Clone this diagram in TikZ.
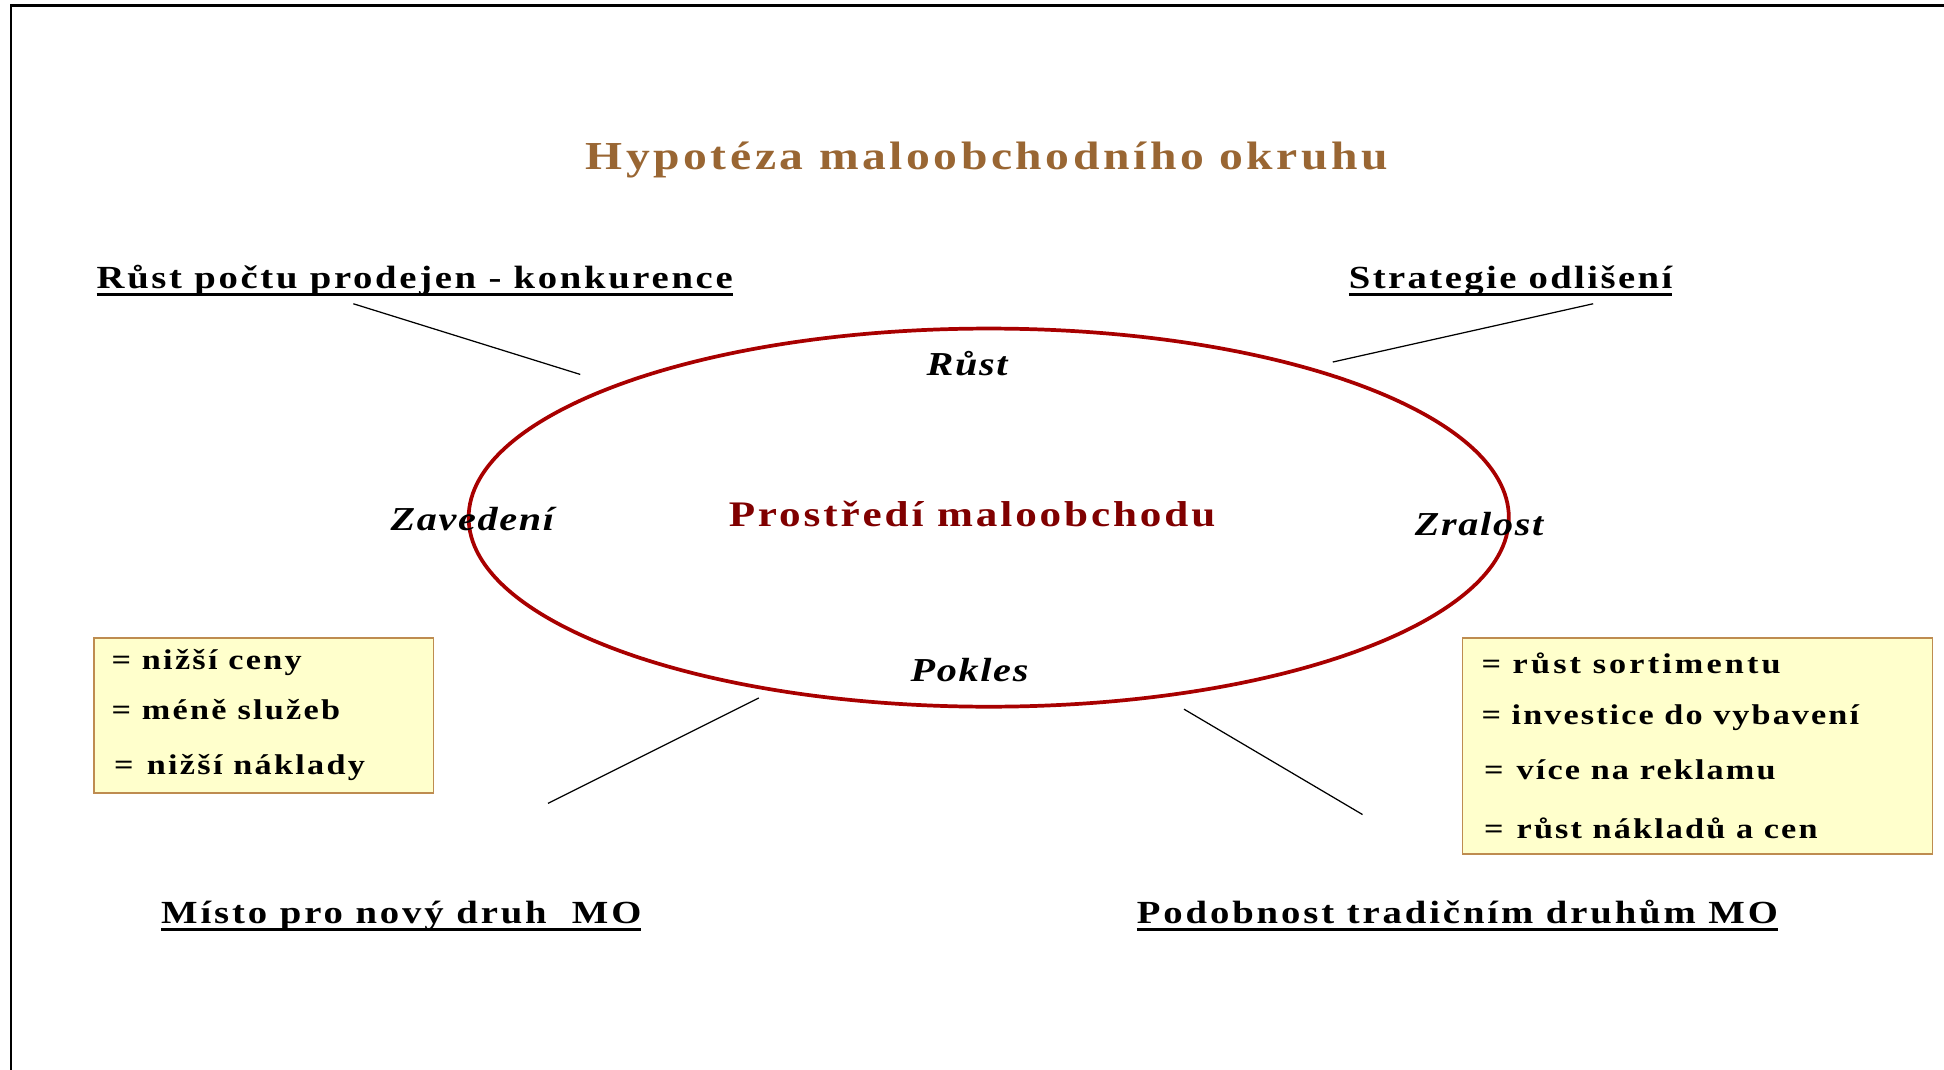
\documentclass[tikz,border=0pt]{standalone}
\usepackage{fontspec}
\setmainfont{Liberation Serif}
\definecolor{titlebrown}{RGB}{153,102,51}
\definecolor{ringred}{RGB}{168,0,0}
\definecolor{envred}{RGB}{128,0,0}
\definecolor{boxfill}{RGB}{255,255,204}
\definecolor{boxedge}{RGB}{190,140,80}
\begin{document}
\begin{tikzpicture}[x=0.5pt,y=-0.5pt,
  txt/.style={inner sep=0pt, outer sep=0pt, anchor=base west},
  titletxt/.style={inner sep=0pt, anchor=base, text=titlebrown,
    font=\fontsize{16}{18}\selectfont\bfseries\addfontfeature{FakeStretch=1.2,LetterSpace=9}},
  headtxt/.style={txt, font=\fontsize{13}{15}\selectfont\bfseries\addfontfeature{FakeStretch=1.2,LetterSpace=#1}},
  headtxt/.default=9,
  phasetxt/.style={inner sep=0pt, anchor=base, font=\fontsize{13.5}{15}\selectfont\bfseries\itshape\addfontfeature{FakeStretch=1.2,LetterSpace=5}},
  envtxt/.style={inner sep=0pt, anchor=base, text=envred, font=\fontsize{14.5}{16}\selectfont\bfseries\addfontfeature{FakeStretch=1.2,LetterSpace=8}},
  itemtxt/.style={txt, font=\fontsize{11.5}{13}\selectfont\bfseries\addfontfeature{FakeStretch=1.2,LetterSpace=#1}},
  itemtxt/.default=8,
  notebox/.style={draw=boxedge, fill=boxfill, line width=0.7pt, anchor=north west, inner sep=0pt},
  uline/.style={line width=1pt},
  leader/.style={line width=0.5pt},
  ring/.style={draw=ringred, line width=1.5pt}
]
\useasboundingbox (0,0) rectangle (1568,863);
% frame
\draw[line width=1pt] (9,863) -- (9,4.5) -- (1568,4.5);

% title
\node[titletxt] (title) at (796,137) {Hypotéza maloobchodního okruhu};

% headings
\node[headtxt=8.3] (h1) at (78,233) {Růst počtu prodejen - konkurence};
\node[headtxt=7.5] (h2) at (1088,233) {Strategie odlišení};
\node[headtxt] (h3) at (130,745) {Místo pro nový druh \ MO};
\node[headtxt] (h4) at (917,745) {Podobnost tradičním druhům MO};
\foreach \h in {h1,h2,h3,h4}
  \draw[uline] ([yshift=-2.3pt]\h.base west) -- ([yshift=-2.3pt]\h.base east);

% ring
\draw[ring] (797.5,417.5) ellipse [x radius=419.5, y radius=152.5];
\node[envtxt] (env) at (784,425) {Prostředí maloobchodu};
\node[phasetxt] (rust) at (780,303) {Růst};
\node[phasetxt] (zav) at (381,428) {Zavedení};
\node[phasetxt] (zral) at (1193,432) {Zralost};
\node[phasetxt] (pok) at (782,550) {Pokles};

% leader lines
\coordinate (a1) at (285,245); \coordinate (b1) at (468,302);
\coordinate (a2) at (1285,245); \coordinate (b2) at (1075,292);
\coordinate (a3) at (612,563); \coordinate (b3) at (442,648);
\coordinate (a4) at (955,572); \coordinate (b4) at (1099,657);
\draw[leader] (a1) -- (b1);
\draw[leader] (a2) -- (b2);
\draw[leader] (a3) -- (b3);
\draw[leader] (a4) -- (b4);

% left box
\node[notebox, minimum width=137pt, minimum height=62.5pt] (lbox) at (75,514) {};
\node[itemtxt] (l1) at (90,540) {= nižší ceny};
\node[itemtxt] (l2) at (90,580) {= méně služeb};
\node[itemtxt] (l3) at (92,625) {=\hspace{1pt} nižší náklady};

% right box
\node[notebox, minimum width=189.5pt, minimum height=87pt] (rbox) at (1179,514) {};
\node[itemtxt=11] (r1) at (1195,543) {= růst sortimentu};
\node[itemtxt=7.3] (r2) at (1195,584) {= investice do vybavení};
\node[itemtxt=7.5] (r3) at (1197,629) {=\hspace{1pt} více na reklamu};
\node[itemtxt=7.5] (r4) at (1197,676) {=\hspace{1pt} růst nákladů a cen};
\end{tikzpicture}
\end{document}
